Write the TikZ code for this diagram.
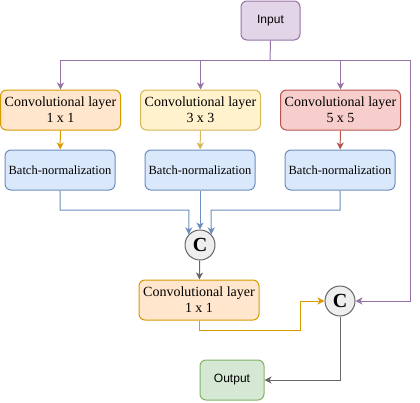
\documentclass[tikz,border=0pt]{standalone}
\usepackage{fontspec}
\setmainfont{Liberation Serif}
\newfontfamily\arialfont{Liberation Sans}
\usetikzlibrary{arrows.meta}
\definecolor{purpF}{HTML}{E1D5E7}\definecolor{purpS}{HTML}{9673A6}
\definecolor{oranF}{HTML}{FFE6CC}\definecolor{oranS}{HTML}{D79B00}
\definecolor{yellF}{HTML}{FFF2CC}\definecolor{yellS}{HTML}{D6B656}
\definecolor{redF}{HTML}{F8CECC}\definecolor{redS}{HTML}{B85450}
\definecolor{bluF}{HTML}{DAE8FC}\definecolor{bluS}{HTML}{6C8EBF}
\definecolor{grnF}{HTML}{D5E8D4}\definecolor{grnS}{HTML}{82B366}
\definecolor{gryF}{HTML}{EEEEEE}\definecolor{gryS}{HTML}{666666}
\begin{document}
\begin{tikzpicture}[x=1pt,y=-1pt,
  box/.style={rectangle,rounded corners=6pt,line width=1pt,align=center,inner sep=0pt},
  convbox/.style={box,minimum width=120pt,minimum height=40pt,font=\fontsize{14}{16}\selectfont},
  bnbox/.style={box,draw=bluS,fill=bluF,minimum width=110pt,minimum height=40pt,font=\fontsize{12.5}{15}\selectfont},
  iobox/.style={box,minimum height=40pt,font=\arialfont\fontsize{12}{14}\selectfont},
  cat/.style={circle,draw=gryS,fill=gryF,line width=1pt,minimum size=30pt,inner sep=0pt,font=\bfseries\fontsize{20}{20}\selectfont},
  conn/.style={line width=1pt,-{Stealth[length=7pt,width=7pt,inset=2pt]}},
  line/.style={line width=1pt}]
\useasboundingbox (0,0) rectangle (420,402);
\node[iobox,draw=purpS,fill=purpF,minimum width=59pt,minimum height=39pt] (in) at (270.5,20.5) {Input};
\node[convbox,draw=oranS,fill=oranF] (c1) at (60.5,110) {Convolutional layer\\1 x 1};
\node[convbox,draw=yellS,fill=yellF] (c2) at (200.5,110) {Convolutional layer\\3 x 3};
\node[convbox,draw=redS,fill=redF] (c3) at (340.5,110) {Convolutional layer\\5 x 5};
\node[bnbox] (b1) at (60,170) {Batch-normalization};
\node[bnbox] (b2) at (200,170) {Batch-normalization};
\node[bnbox] (b3) at (340,170) {Batch-normalization};
\node[cat] (k1) at (200,245) {C};
\node[convbox,draw=oranS,fill=oranF] (c4) at (199,300) {Convolutional layer\\1 x 1};
\node[cat] (k2) at (340,301) {C};
\node[iobox,draw=grnS,fill=grnF,minimum width=64pt] (out) at (232,380) {Output};
\coordinate (j) at (270,60);
\coordinate (r) at (410,60);
\coordinate (m1) at (189,210);
\coordinate (m3) at (211,210);
\coordinate (q) at (300,330);
\draw[line,purpS] (in.south) -- (j);
\draw[conn,purpS] (j) -| (c1.north);
\draw[conn,purpS] (j) -| (c2.north);
\draw[conn,purpS] (j) -| (c3.north);
\draw[conn,purpS] (j) -- (r) |- (k2.east);
\draw[conn,oranS] (c1) -- (b1);
\draw[conn,yellS] (c2) -- (b2);
\draw[conn,redS] (c3) -- (b3);
\draw[conn,bluS] (b1.south) |- (m1) -- (k1.137);
\draw[conn,bluS] (b2.south) -- (k1.north);
\draw[conn,bluS] (b3.south) |- (m3) -- (k1.43);
\draw[conn,gryS] (k1) -- (c4);
\draw[conn,oranS] (c4.south) |- (q) |- (k2.west);
\draw[conn,gryS] (k2.south) |- (out.east);
\end{tikzpicture}
\end{document}
